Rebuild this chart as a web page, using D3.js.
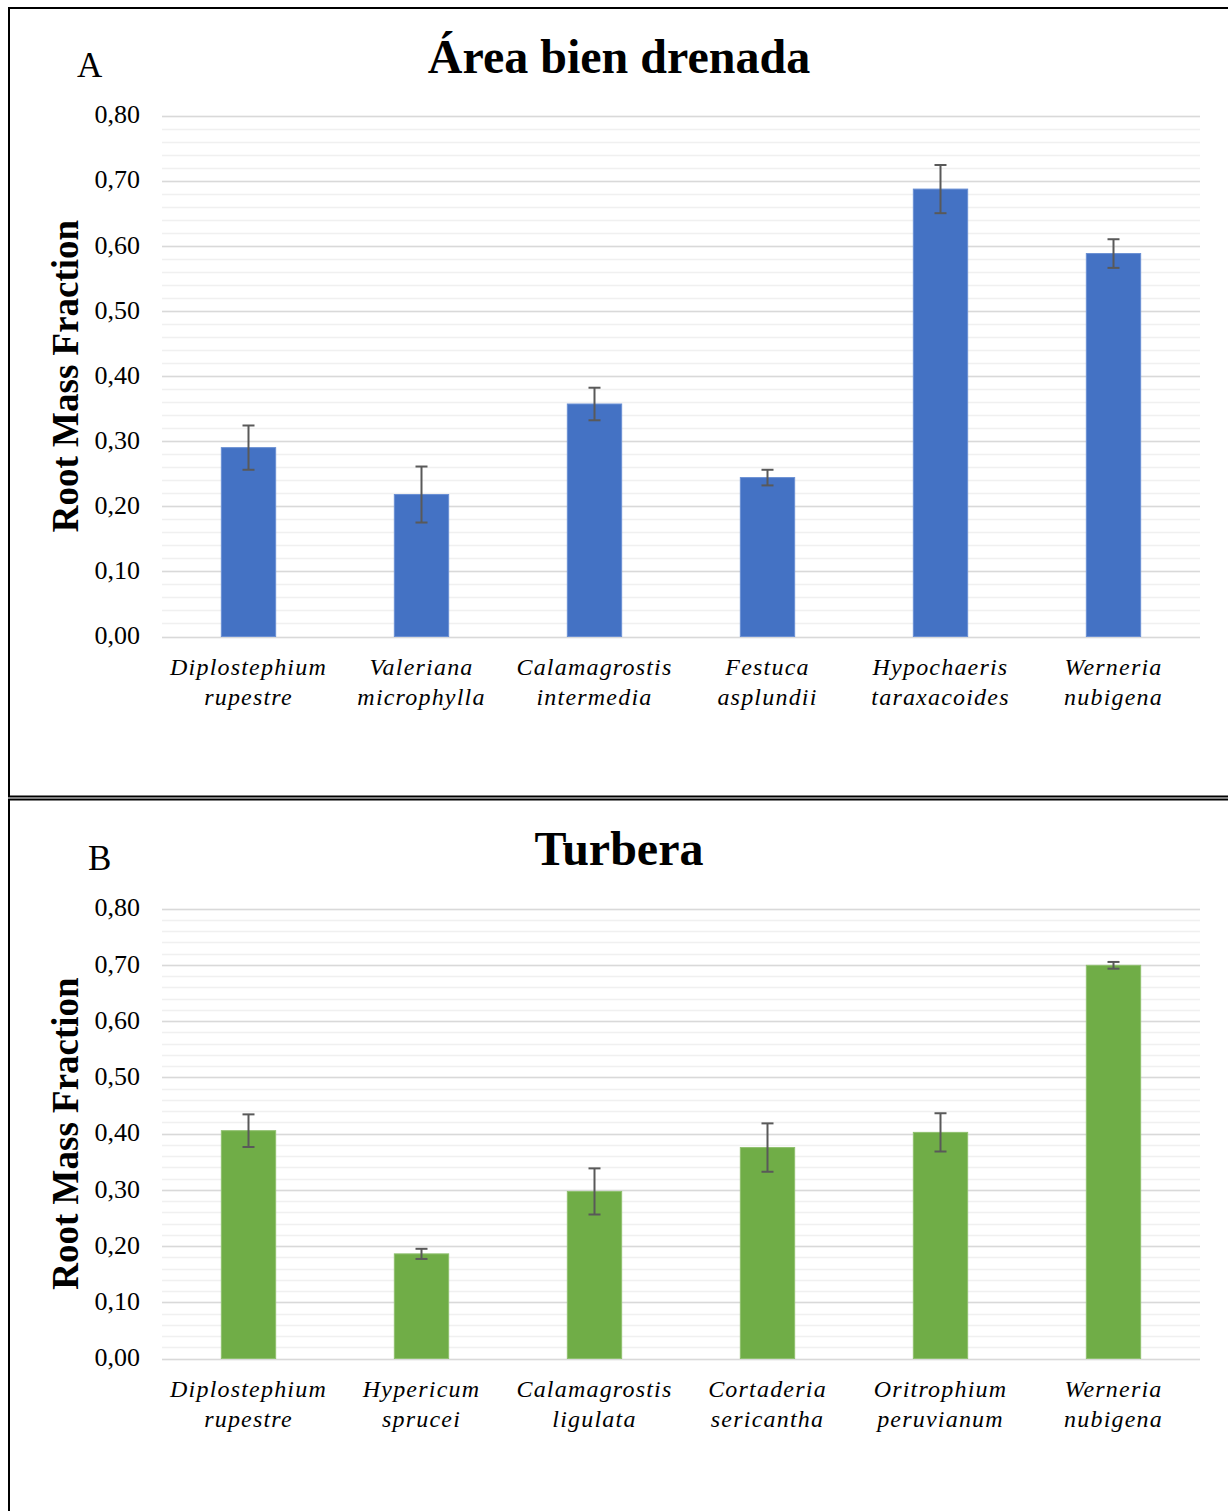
<!DOCTYPE html>
<html lang="es">
<head>
<meta charset="UTF-8">
<title>Root Mass Fraction</title>
<script src="https://d3js.org/d3.v7.min.js"></script>
<style>
  body { margin: 0; background: #fff; }
  text { font-family: "Liberation Serif", "Times New Roman", serif; }
</style>
</head>
<body>
<svg id="chart" width="1228" height="1511"></svg>
<script>
    // Panel A data
    const speciesA = [["Diplostephium", "rupestre"], ["Valeriana", "microphylla"], ["Calamagrostis", "intermedia"],
                      ["Festuca", "asplundii"], ["Hypochaeris", "taraxacoides"], ["Werneria", "nubigena"]];
    const valuesA = [0.290, 0.218, 0.357, 0.244, 0.687, 0.588];
    const errorsA = [0.034, 0.043, 0.025, 0.012, 0.037, 0.022];

    // Panel B data
    const speciesB = [["Diplostephium", "rupestre"], ["Hypericum", "sprucei"], ["Calamagrostis", "ligulata"],
                      ["Cortaderia", "sericantha"], ["Oritrophium", "peruvianum"], ["Werneria", "nubigena"]];
    const valuesB = [0.405, 0.186, 0.297, 0.375, 0.402, 0.699];
    const errorsB = [0.029, 0.009, 0.041, 0.043, 0.034, 0.006];

    const yTicks = [0, 0.1, 0.2, 0.3, 0.4, 0.5, 0.6, 0.7, 0.8];
    const minorTicks = d3.range(0, 0.8001, 0.02);

    const svg = d3.select("#chart");

    // panel borders
    svg.append("path")
        .attr("d", "M1228,8 H9 V796.5 H1228")
        .attr("fill", "none").attr("stroke", "#000").attr("stroke-width", 2);
    svg.append("path")
        .attr("d", "M1228,799.5 H9 V1511")
        .attr("fill", "none").attr("stroke", "#000").attr("stroke-width", 2);

    function drawPanel(opt) {
        const g = svg.append("g");
        const x = d3.scaleBand()
            .domain(opt.species.map((d, i) => i))
            .range([162, 1200])
            .paddingInner(0.686)
            .paddingOuter(0.343);
        const y = d3.scaleLinear().domain([0, 0.8]).range([opt.bottom, opt.top]);

        // minor grid
        g.append("g").selectAll("line").data(minorTicks).join("line")
            .attr("x1", 162).attr("x2", 1200)
            .attr("y1", d => Math.round(y(d)) + 0.5).attr("y2", d => Math.round(y(d)) + 0.5)
            .attr("stroke", "#f0f0f0").attr("stroke-width", 1.5);
        // major grid
        g.append("g").selectAll("line").data(yTicks).join("line")
            .attr("x1", 162).attr("x2", 1200)
            .attr("y1", d => Math.round(y(d)) + 0.5).attr("y2", d => Math.round(y(d)) + 0.5)
            .attr("stroke", "#d9d9d9").attr("stroke-width", 1.5);

        // y tick labels
        g.append("g").selectAll("text").data(yTicks).join("text")
            .attr("x", 140).attr("y", d => y(d))
            .attr("dy", "0.3em")
            .attr("text-anchor", "end")
            .attr("font-size", 26)
            .attr("fill", "#000")
            .text(d => d3.format(".2f")(d).replace(".", ","));

        // bars
        g.append("g").selectAll("rect").data(opt.values).join("rect")
            .attr("x", (d, i) => x(i))
            .attr("y", d => y(d))
            .attr("width", x.bandwidth())
            .attr("height", d => y(0) - y(d))
            .attr("fill", opt.color)
            .attr("stroke", opt.edge).attr("stroke-width", 1);

        // error bars
        const eb = g.append("g").attr("stroke", "#595959").attr("stroke-width", 2);
        opt.values.forEach((v, i) => {
            const cx = x(i) + x.bandwidth() / 2;
            const e = opt.errors[i];
            eb.append("line").attr("x1", cx).attr("x2", cx).attr("y1", y(v + e)).attr("y2", y(v - e));
            eb.append("line").attr("x1", cx - 6).attr("x2", cx + 6).attr("y1", y(v + e)).attr("y2", y(v + e));
            eb.append("line").attr("x1", cx - 6).attr("x2", cx + 6).attr("y1", y(v - e)).attr("y2", y(v - e));
        });

        // category labels
        const lab = g.append("g").selectAll("text").data(opt.species).join("text")
            .attr("x", (d, i) => x(i) + x.bandwidth() / 2)
            .attr("y", opt.bottom + 38)
            .attr("text-anchor", "middle")
            .attr("font-size", 24)
            .attr("font-style", "italic")
            .attr("letter-spacing", 1.2);
        lab.append("tspan").attr("x", (d, i) => x(i) + x.bandwidth() / 2).text(d => d[0]);
        lab.append("tspan").attr("x", (d, i) => x(i) + x.bandwidth() / 2).attr("dy", 30).text(d => d[1]);

        // y-axis title
        g.append("text")
            .attr("transform", `translate(78,${(opt.top + opt.bottom) / 2}) rotate(-90)`)
            .attr("text-anchor", "middle")
            .attr("font-size", 37)
            .attr("font-weight", "bold")
            .text("Root Mass Fraction");

        // title
        g.append("text")
            .attr("x", 619).attr("y", opt.titleY)
            .attr("text-anchor", "middle")
            .attr("font-size", 48)
            .attr("font-weight", "bold")
            .text(opt.title);

        // panel letter
        g.append("text")
            .attr("x", opt.letterX).attr("y", opt.letterY)
            .attr("font-size", 35)
            .text(opt.letter);
    }

    drawPanel({
        species: speciesA, values: valuesA, errors: errorsA,
        top: 115.5, bottom: 636.5, color: "#4472c4", edge: "#6a8fd3",
        title: "Área bien drenada", titleY: 73, letter: "A", letterX: 77, letterY: 77
    });
    drawPanel({
        species: speciesB, values: valuesB, errors: errorsB,
        top: 908.5, bottom: 1358.5, color: "#70ad47", edge: "#8fc06e",
        title: "Turbera", titleY: 865, letter: "B", letterX: 88, letterY: 870
    });
</script>
</body>
</html>
